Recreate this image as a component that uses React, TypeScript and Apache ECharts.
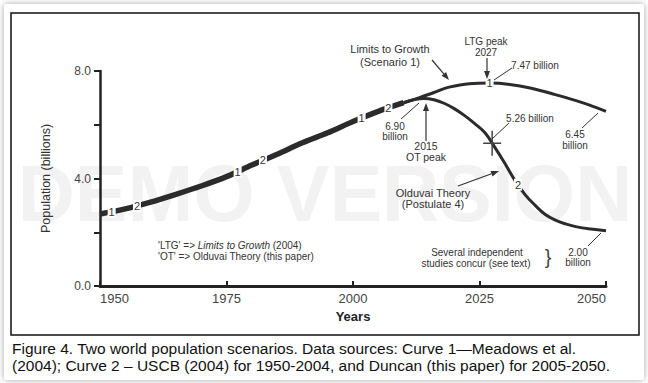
import React, { useEffect, useRef } from "react";
import * as echarts from "echarts";

const FONT = '"Liberation Sans", Arial, Helvetica, sans-serif';

// Shared historical curve (both scenarios coincide), 1950-2010
const histYears = [1950, 1955, 1960, 1965, 1970, 1975, 1980, 1985, 1990, 1995, 2000, 2005, 2010];
const histPop = [2.68, 2.87, 3.12, 3.41, 3.72, 4.07, 4.5, 4.9, 5.33, 5.7, 6.12, 6.5, 6.82];

// Curve 1 - Limits to Growth (Scenario 1), 2010-2050
const ltgYears = [2010, 2013, 2016, 2019, 2023, 2027, 2031, 2035, 2040, 2045, 2050];
const ltgPop = [6.82, 7.0, 7.2, 7.4, 7.53, 7.55, 7.5, 7.37, 7.12, 6.84, 6.5];

// Curve 2 - Olduvai Theory (Postulate 4), 2010-2050
const otYears = [2010, 2012, 2014, 2016, 2018, 2020, 2022, 2024, 2026, 2028, 2030, 2032, 2034, 2036, 2038, 2040, 2042, 2044, 2047, 2050];
const otPop = [6.82, 6.93, 6.98, 6.93, 6.8, 6.6, 6.35, 6.05, 5.72, 5.17, 4.57, 3.93, 3.4, 3.0, 2.66, 2.45, 2.31, 2.21, 2.12, 2.06];

// Inline curve labels (text, year)
const bandLabels: [string, number][] = [["1", 1952.3], ["2", 1957.3], ["1", 1977.2], ["2", 1982.2], ["1", 2001.7], ["2", 2007]];
const ltgLabels: [string, number][] = [["1", 2027]];
const otLabels: [string, number][] = [["2", 2032.6]];
const crossYear = 2027.5;

// Axis tick labels
const yLabeled = [0, 4, 8];
const xTicks = [1950, 1975, 2000, 2025, 2050];

const captionLines = [
  "Figure 4. Two world population scenarios. Data sources: Curve 1\u2014Meadows et al.",
  "(2004); Curve 2 \u2013 USCB (2004) for 1950-2004, and Duncan (this paper) for 2005-2050.",
];

function interp(xs: number[], ys: number[], x: number) {
  for (let i = 0; i < xs.length - 1; i++) {
    if (x >= xs[i] && x <= xs[i + 1]) {
      const t = (x - xs[i]) / (xs[i + 1] - xs[i]);
      return ys[i] + t * (ys[i + 1] - ys[i]);
    }
  }
  return ys[ys.length - 1];
}

const zip = (xs: number[], ys: number[]) => xs.map((x, i) => [x, ys[i]]);

const INK = "#2b2b2b";
const TXT = "#333";

function txt(text: string, x: number, y: number, size = 10, extra: any = {}) {
  return {
    type: "text",
    x,
    y,
    z: 100,
    style: { text, fontSize: size, fontFamily: FONT, fill: TXT, align: "center", verticalAlign: "middle", ...extra },
  };
}

function seg(x1: number, y1: number, x2: number, y2: number, w = 1) {
  return { type: "line", z: 100, shape: { x1, y1, x2, y2 }, style: { stroke: TXT, lineWidth: w } };
}

function arrow(x1: number, y1: number, x2: number, y2: number) {
  const dx = x2 - x1, dy = y2 - y1;
  const L = Math.sqrt(dx * dx + dy * dy);
  const ux = dx / L, uy = dy / L;
  const hl = 8, hw = 3;
  const bx = x2 - ux * hl, by = y2 - uy * hl;
  return [
    seg(x1, y1, bx, by, 1.2),
    {
      type: "polygon",
      z: 100,
      shape: { points: [[x2, y2], [bx - uy * hw, by + ux * hw], [bx + uy * hw, by - ux * hw]] },
      style: { fill: TXT },
    },
  ];
}

function labelPoints(labels: [string, number][], xs: number[], ys: number[]) {
  return labels.map(([t, yr]) => ({ name: t, coord: [yr, interp(xs, ys, yr)] }));
}

const markLabelStyle = {
  symbol: "rect",
  symbolSize: [8, 12],
  itemStyle: { color: "#fff" },
  label: {
    show: true,
    position: "inside",
    formatter: "{b}",
    color: "#333",
    fontSize: 11,
    fontFamily: FONT,
    textBorderWidth: 0,
    textBorderColor: "transparent",
  },
  silent: true,
  animation: false,
};

function buildOption() {
  const graphics: any[] = [
    {
      type: "rect",
      z: -10,
      shape: { x: 4, y: 4, width: 640, height: 376, r: 3 },
      style: { fill: "#fff", shadowBlur: 6, shadowColor: "rgba(0,0,0,0.35)" },
    },
    {
      type: "rect",
      z: 90,
      shape: { x: 11, y: 13, width: 628, height: 322 },
      style: { fill: "none", stroke: "#111", lineWidth: 1.5 },
    },
    {
      type: "text",
      z: 0,
      x: 325,
      y: 193,
      style: { text: "DEMO VERSION", fontSize: 79, fontWeight: "bold", fontFamily: FONT, fill: "#f2f2f2", align: "center", verticalAlign: "middle" },
    },
    txt("Limits to Growth", 390, 49, 11),
    txt("(Scenario 1)", 390, 62, 11),
    ...arrow(432, 60, 449, 80),
    txt("LTG peak", 486, 41, 10),
    txt("2027", 486, 52, 10),
    ...arrow(487, 58, 487, 79),
    txt("7.47 billion", 535, 65, 10),
    seg(494, 80, 512, 68),
    txt("6.90", 395, 126, 10),
    txt("billion", 395, 136, 10),
    seg(401, 119, 419, 103),
    txt("2015", 426, 146, 10.5),
    txt("OT peak", 426, 157, 10.5),
    ...arrow(426, 141, 426, 103),
    txt("5.26 billion", 530, 118, 10),
    seg(492, 139, 509, 123),
    txt("6.45", 575, 134, 10),
    txt("billion", 575, 145, 10),
    seg(582, 128, 598, 113),
    txt("Olduvai Theory", 433, 193, 11),
    txt("(Postulate 4)", 433, 204, 11),
    ...arrow(458, 186, 499, 171),
    txt("'LTG' => {i|Limits to Growth} (2004)", 158, 245, 10, { align: "left", rich: { i: { fontStyle: "italic", fontSize: 10, fontFamily: FONT, fill: TXT } } }),
    txt("'OT' => Olduvai Theory (this paper)", 158, 256, 10, { align: "left" }),
    txt("Several independent", 477, 252, 10),
    txt("studies concur (see text)", 476, 263, 10),
    txt("}", 548, 257, 20, { fill: "#444" }),
    txt("2.00", 578, 252, 10),
    txt("billion", 578, 262, 10),
    seg(588, 246, 601, 233),
    ...captionLines.map((l, i) => ({
      type: "text",
      z: 100,
      x: 12,
      y: 348 + i * 17.5,
      style: { text: l, fontSize: 15.5, fontFamily: FONT, fill: "#111", align: "left", verticalAlign: "middle" },
    })),
  ];

  return {
    animation: false,
    backgroundColor: "transparent",
    grid: { left: 100, right: 42, top: 71, bottom: 97 },
    xAxis: {
      type: "value",
      min: xTicks[0],
      max: xTicks[xTicks.length - 1],
      interval: 25,
      name: "Years",
      nameLocation: "middle",
      nameGap: 15,
      nameTextStyle: { fontWeight: "bold", fontSize: 13, color: "#222", fontFamily: FONT },
      axisLine: { show: true, lineStyle: { color: "#222", width: 3 } },
      axisTick: { show: true, inside: true, length: 5, lineStyle: { color: "#222", width: 2 } },
      axisLabel: {
        fontSize: 13,
        color: "#444",
        margin: 6,
        fontFamily: FONT,
        alignMinLabel: "left",
        alignMaxLabel: "right",
        showMinLabel: true,
        showMaxLabel: true,
        hideOverlap: false,
        formatter: (v: number) => String(v),
      },
      splitLine: { show: false },
    },
    yAxis: {
      type: "value",
      min: 0,
      max: 8,
      interval: 2,
      name: "Population (billions)",
      nameLocation: "middle",
      nameGap: 48,
      nameTextStyle: { fontSize: 12.5, color: "#333", fontFamily: FONT },
      axisLine: { show: true, lineStyle: { color: "#222", width: 2.5 } },
      axisTick: { show: true, inside: false, length: 6, lineStyle: { color: "#222", width: 2 } },
      axisLabel: {
        fontSize: 12,
        color: "#444",
        margin: 9,
        fontFamily: FONT,
        formatter: (v: number) => (yLabeled.includes(v) ? v.toFixed(1) : ""),
      },
      splitLine: { show: false },
    },
    graphic: graphics,
    series: [
      {
        type: "line",
        name: "Historical",
        data: zip(histYears, histPop),
        smooth: 0.3,
        showSymbol: false,
        lineStyle: { color: INK, width: 5.5, cap: "butt" },
        z: 3,
        markPoint: { ...markLabelStyle, data: labelPoints(bandLabels, histYears, histPop) },
      },
      {
        type: "line",
        name: "Limits to Growth",
        data: zip(ltgYears, ltgPop),
        smooth: 0.4,
        showSymbol: false,
        lineStyle: { color: INK, width: 3 },
        z: 3,
        markPoint: { ...markLabelStyle, data: labelPoints(ltgLabels, ltgYears, ltgPop) },
      },
      {
        type: "line",
        name: "Olduvai Theory",
        data: zip(otYears, otPop),
        smooth: 0.4,
        showSymbol: false,
        lineStyle: { color: INK, width: 3 },
        z: 3,
        markPoint: {
          silent: true,
          animation: false,
          data: [
            ...labelPoints(otLabels, otYears, otPop).map((d) => ({ ...d, ...markLabelStyle })),
            {
              name: "cross",
              coord: [crossYear, interp(otYears, otPop, crossYear)],
              symbol: "path://M0,11.75h18v1.5h-18z M8.25,0h1.5v25h-1.5z",
              symbolSize: [18, 25],
              symbolKeepAspect: false,
              itemStyle: { color: "#444" },
              label: { show: false },
            },
          ],
        },
      },
    ],
  };
}

export default function App() {
  const ref = useRef<HTMLDivElement>(null);
  useEffect(() => {
    if (!ref.current) return;
    const chart = echarts.init(ref.current, null, { renderer: "svg" });
    chart.setOption(buildOption() as any);
    return () => chart.dispose();
  }, []);
  return (
    <div
      ref={ref}
      style={{ position: "absolute", left: 0, top: 0, width: 648, height: 383, background: "#fff" }}
    />
  );
}
